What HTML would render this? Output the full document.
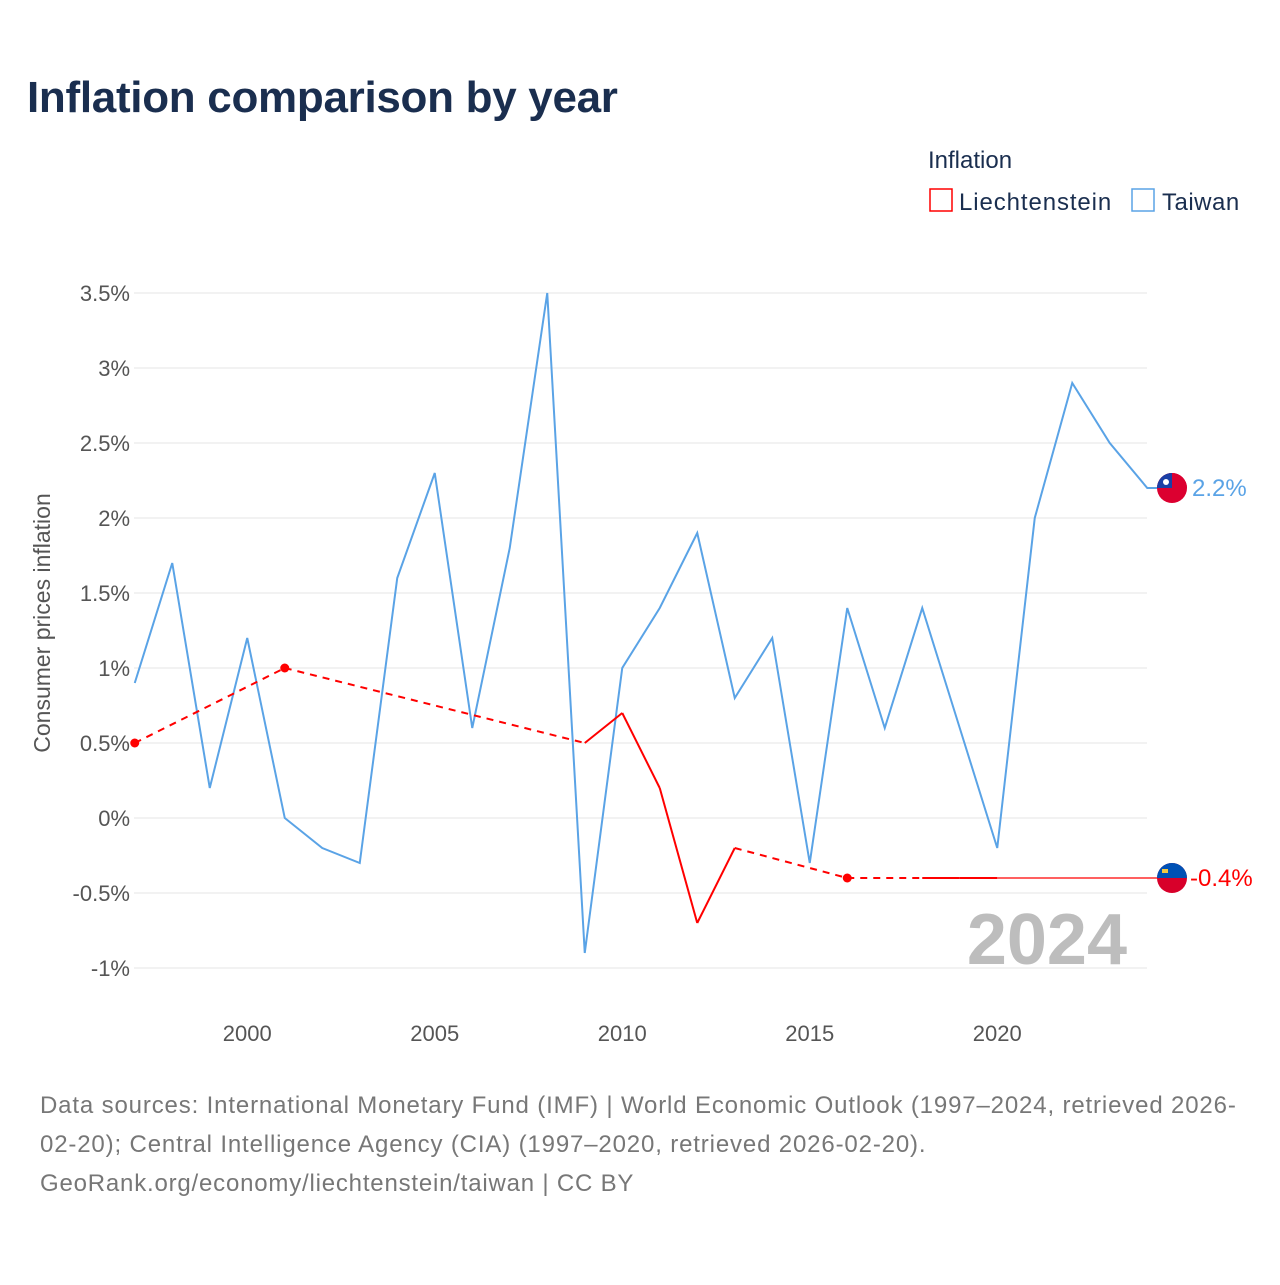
<!DOCTYPE html>
<html><head><meta charset="utf-8"><style>
body{margin:0;background:#fff;font-family:"Liberation Sans",sans-serif}
</style></head><body>
<svg id="c" width="1280" height="1280" xmlns="http://www.w3.org/2000/svg">
<rect width="1280" height="1280" fill="#fff"/>
<text x="27" y="112" font-size="44" font-weight="bold" fill="#1a2e4f" letter-spacing="-0.3">Inflation comparison by year</text>
<text x="928" y="168" font-size="24" fill="#1a2e4f">Inflation</text>
<g><rect x="930" y="189" width="22" height="22" fill="none" stroke="#f00" stroke-width="1.5"/><text x="959" y="210" font-size="24" fill="#1a2e4f" letter-spacing="0.9">Liechtenstein</text></g>
<g><rect x="1132" y="189" width="22" height="22" fill="none" stroke="#5aa3e6" stroke-width="1.5"/><text x="1162" y="210" font-size="24" fill="#1a2e4f" letter-spacing="0.5">Taiwan</text></g>
<text transform="translate(50,623) rotate(-90)" text-anchor="middle" font-size="23" fill="#555">Consumer prices inflation</text>
<text x="1127" y="964" text-anchor="end" font-size="72" font-weight="bold" fill="#bdbdbd">2024</text>
<g id="grid"></g><g id="marks"></g>
<text x="40" y="1113" font-size="24" fill="#777" letter-spacing="0.85">Data sources: International Monetary Fund (IMF) | World Economic Outlook (1997–2024, retrieved 2026-</text>
<text x="40" y="1152" font-size="24" fill="#777" letter-spacing="0.85">02-20); Central Intelligence Agency (CIA) (1997–2020, retrieved 2026-02-20).</text>
<text x="40" y="1191" font-size="24" fill="#777" letter-spacing="0.8">GeoRank.org/economy/liechtenstein/taiwan | CC BY</text>
</svg>
<script>
const years=[1997,1998,1999,2000,2001,2002,2003,2004,2005,2006,2007,2008,2009,2010,2011,2012,2013,2014,2015,2016,2017,2018,2019,2020,2021,2022,2023,2024];
const taiwan=[0.9,1.7,0.2,1.2,0.0,-0.2,-0.3,1.6,2.3,0.6,1.8,3.5,-0.9,1.0,1.4,1.9,0.8,1.2,-0.3,1.4,0.6,1.4,0.6,-0.2,2.0,2.9,2.5,2.2];
const liechtenstein=[0.5,null,null,null,1.0,null,null,null,null,null,null,null,0.5,0.7,0.2,-0.7,-0.2,null,null,-0.4,null,-0.4,-0.4,-0.4,null,null,null,null];
const yTicks=[-1,-0.5,0,0.5,1,1.5,2,2.5,3,3.5];
const yTickLabels=["-1%","-0.5%","0%","0.5%","1%","1.5%","2%","2.5%","3%","3.5%"];
const xTicks=[2000,2005,2010,2015,2020];
const NS="http://www.w3.org/2000/svg";
const X=y=>134.75+(y-1997)*37.5;
const Y=v=>818-v*150;
function el(t,a,p){const e=document.createElementNS(NS,t);for(const k in a)e.setAttribute(k,a[k]);p.appendChild(e);return e;}
const g=document.getElementById('grid'),m=document.getElementById('marks');
yTicks.forEach((v,i)=>{
 const l=el('line',{x1:134,x2:1147,y1:Y(v),y2:Y(v),stroke:'#e6e6e6'},g);
 
 
 const t=el('text',{x:130,y:Y(v)+8,'text-anchor':'end','font-size':22,fill:'#555'},g);t.textContent=yTickLabels[i];
 
 
});
xTicks.forEach(v=>{
 const t=el('text',{x:X(v),y:1041,'text-anchor':'middle','font-size':22,fill:'#555'},g);t.textContent=v;
 
 
});
const tp=el('polyline',{points:years.map((y,i)=>X(y)+','+Y(taiwan[i])).join(' ')+' 1160,'+Y(taiwan[taiwan.length-1]),fill:'none',stroke:'#5aa3e6','stroke-width':2},m);


const pts=[];years.forEach((y,i)=>{if(liechtenstein[i]!=null)pts.push([i,y,liechtenstein[i]]);});
for(let k=0;k<pts.length-1;k++){
 const a=pts[k],b=pts[k+1];const gap=b[0]-a[0]>1;
 const s=el('line',{x1:X(a[1]),y1:Y(a[2]),x2:X(b[1]),y2:Y(b[2]),stroke:'#f00','stroke-width':2,'stroke-dasharray':gap?'7,6':'none'},m);
 
 
}
pts.forEach((p,k)=>{const prev=k>0&&pts[k-1][0]===p[0]-1,next=k<pts.length-1&&pts[k+1][0]===p[0]+1;
 if(!prev&&!next){const d=el('circle',{cx:X(p[1]),cy:Y(p[2]),r:4.5,fill:'#f00'},m);
 
 }});
const last=pts[pts.length-1];
const cn=el('line',{x1:X(last[1]),y1:Y(last[2]),x2:1160,y2:Y(last[2]),stroke:'#f00','stroke-width':1.2},m);


function flag(cy,top,bot,name){
 const gg=el('g',{},m);
 
 
 el('circle',{cx:1172,cy:cy,r:15,fill:bot},gg);
 el('path',{d:`M1157,${cy} A15,15 0 0 1 1187,${cy} Z`,fill:top},gg);
 return gg;}
const ty=Y(taiwan[taiwan.length-1]);
const ft=flag(ty,'#dc0030','#dc0030','taiwan-flag');
el('path',{d:`M1157,${ty} A15,15 0 0 1 1172,${ty-15} L1172,${ty} Z`,fill:'#1a3fa6'},ft);
el('circle',{cx:1166,cy:ty-6,r:3,fill:'#fff'},ft);
const fl=flag(Y(last[2]),'#0051b5','#d8002a','liechtenstein-flag');
el('rect',{x:1162,y:Y(last[2])-9,width:6,height:4,fill:'#f5c842'},fl);
let t=el('text',{x:1192,y:ty+8,'font-size':24,fill:'#5aa3e6'},m);t.textContent=taiwan[taiwan.length-1]+'%';


t=el('text',{x:1190,y:Y(last[2])+8,'font-size':24,fill:'#f00'},m);t.textContent=last[2]+'%';


</script>
</body></html>
